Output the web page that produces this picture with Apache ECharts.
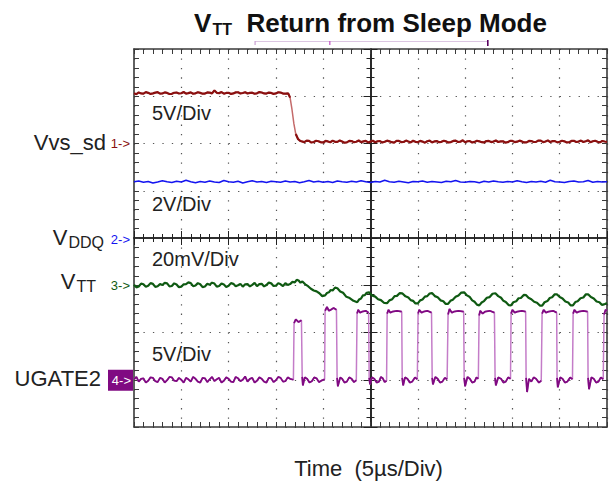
<!DOCTYPE html>
<html><head><meta charset="utf-8">
<script src="https://cdn.jsdelivr.net/npm/echarts@6/dist/echarts.min.js"></script>
<style>html,body{margin:0;padding:0;background:#fff}#c{width:612px;height:484px}</style>
</head><body><div id="c"></div>
<script>
// ---- time axis (µs), 10 div x 5 µs
const timeMin = 0, timeMax = 50, timePerDiv = 5;
// ---- vertical: 8 divisions, centre = 0
const divMin = -4, divMax = 4;
// channel scaling (units per division) and ground marker position (div)
const ch1PerDiv = 5, ch1Ground = 2;      // Vvs_sd, 5V/Div
const ch2PerDiv = 2, ch2Ground = 0;      // VDDQ, 2V/Div
const ch3PerDiv = 20, ch3Ground = -1;    // VTT, 20mV/Div
const ch4PerDiv = 5, ch4Ground = -3;     // UGATE2, 5V/Div

// ---- channel 1: Vvs_sd [µs, V]
const ch1Volts = [
[0,5.31],[0.25,5.22],[0.5,5.40],[0.75,5.30],[1,5.27],[1.25,5.44],[1.5,5.36],[1.75,5.25],[2,5.30],[2.25,5.38],[2.5,5.43],[2.75,5.28],[3,5.29],[3.25,5.41],[3.5,5.35],[3.75,5.24],[4,5.26],[4.25,5.37],[4.5,5.39],[4.75,5.29],
[5,5.32],[5.25,5.45],[5.5,5.28],[5.75,5.33],[6,5.41],[6.25,5.26],[6.5,5.31],[6.75,5.42],[7,5.36],[7.25,5.27],[7.5,5.28],[7.75,5.40],[8,5.38],[8.25,5.30],[8.5,5.62],[8.75,5.36],[9,5.33],[9.25,5.44],[9.5,5.27],[9.75,5.35],
[10,5.37],[10.25,5.25],[10.5,5.30],[10.75,5.41],[11,5.42],[11.25,5.29],[11.5,5.34],[11.75,5.43],[12,5.29],[12.25,5.36],[12.5,5.38],[12.75,5.26],[13,5.31],[13.25,5.44],[13.5,5.40],[13.75,5.30],[14,5.28],[14.25,5.39],[14.5,5.35],[14.75,5.25],
[15,5.30],[15.25,5.42],[15.5,5.39],[15.75,5.28],[16,5.27],[16.3,5.30],[16.5,4.85],[16.7,3.6],[16.9,2.1],[17.1,1.0],[17.35,0.45],[17.6,0.26],
[18,0.14],[18.25,0.30],[18.5,0.27],[18.75,0.10],[19,0.16],[19.25,0.29],[19.5,0.24],[19.75,0.12],[20,0.11],[20.25,0.27],[20.5,0.22],[20.75,0.13],[21,0.30],[21.25,0.18],[21.5,0.17],[21.75,0.31],[22,0.21],[22.25,0.09],[22.5,0.12],[22.75,0.28],
[23,0.26],[23.25,0.14],[23.5,0.19],[23.75,0.32],[24,0.15],[24.25,0.22],[24.5,0.28],[24.75,0.11],[25,0.20],[25.25,0.29],[25.5,0.13],[25.75,0.24],[26,0.25],[26.25,0.10],[26.5,0.18],[26.75,0.30],[27,0.23],[27.25,0.14],[27.5,0.10],[27.75,0.27],
[28,0.27],[28.25,0.15],[28.5,0.16],[28.75,0.31],[29,0.21],[29.25,0.12],[29.5,0.29],[29.75,0.18],[30,0.14],[30.25,0.28],[30.5,0.20],[30.75,0.09],[31,0.24],[31.25,0.30],[31.5,0.12],[31.75,0.22],[32,0.26],[32.25,0.13],[32.5,0.18],[32.75,0.29],
[33,0.22],[33.25,0.11],[33.5,0.15],[33.75,0.27],[34,0.31],[34.25,0.16],[34.5,0.19],[34.75,0.34],[35,0.13],[35.25,0.24],[35.5,0.25],[35.75,0.10],[36,0.17],[36.25,0.29],[36.5,0.23],[36.75,0.14],[37,0.11],[37.25,0.26],[37.5,0.28],[37.75,0.15],
[38,0.20],[38.25,0.32],[38.5,0.16],[38.75,0.22],[39,0.24],[39.25,0.10],[39.5,0.14],[39.75,0.28],[40,0.27],[40.25,0.15],[40.5,0.19],[40.75,0.30],[41,0.22],[41.25,0.11],[41.5,0.12],[41.75,0.27],[42,0.26],[42.25,0.16],[42.5,0.17],[42.75,0.31],
[43,0.30],[43.25,0.14],[43.5,0.21],[43.75,0.33],[44,0.15],[44.25,0.25],[44.5,0.25],[44.75,0.12],[45,0.18],[45.25,0.29],[45.5,0.23],[45.75,0.11],[46,0.13],[46.25,0.27],[46.5,0.28],[46.75,0.16],[47,0.20],[47.25,0.31],[47.5,0.16],[47.75,0.24],
[48,0.33],[48.25,0.14],[48.5,0.24],[48.75,0.29],[49,0.19],[49.25,0.12],[49.5,0.27],[49.75,0.21],[50,0.18]
];
// ---- channel 2: VDDQ [µs, V]
const ch2Volts = [
[0,2.38],[0.5,2.41],[1,2.36],[1.5,2.39],[2,2.33],[2.5,2.37],[3,2.42],[3.5,2.38],[4,2.35],[4.5,2.40],
[5,2.37],[5.5,2.44],[6,2.38],[6.5,2.34],[7,2.39],[7.5,2.36],[8,2.41],[8.5,2.37],[9,2.35],[9.5,2.43],
[10,2.38],[10.5,2.36],[11,2.40],[11.5,2.33],[12,2.38],[12.5,2.42],[13,2.37],[13.5,2.39],[14,2.35],[14.5,2.40],
[15,2.38],[15.5,2.36],[16,2.41],[16.5,2.37],[17,2.39],[17.5,2.34],[18,2.38],[18.5,2.43],[19,2.37],[19.5,2.40],
[20,2.36],[20.5,2.39],[21,2.35],[21.5,2.41],[22,2.38],[22.5,2.36],[23,2.40],[23.5,2.37],[24,2.42],[24.5,2.38],
[25,2.35],[25.5,2.39],[26,2.37],[26.5,2.44],[27,2.38],[27.5,2.36],[28,2.40],[28.5,2.37],[29,2.34],[29.5,2.39],
[30,2.38],[30.5,2.41],[31,2.36],[31.5,2.39],[32,2.37],[32.5,2.35],[33,2.40],[33.5,2.38],[34,2.43],[34.5,2.37],
[35,2.36],[35.5,2.39],[36,2.38],[36.5,2.34],[37,2.40],[37.5,2.37],[38,2.41],[38.5,2.38],[39,2.36],[39.5,2.39],
[40,2.37],[40.5,2.42],[41,2.38],[41.5,2.35],[42,2.39],[42.5,2.37],[43,2.40],[43.5,2.36],[44,2.44],[44.5,2.38],
[45,2.37],[45.5,2.35],[46,2.39],[46.5,2.41],[47,2.37],[47.5,2.38],[48,2.43],[48.5,2.36],[49,2.39],[49.5,2.37],
[50,2.38]
];
// ---- channel 3: VTT [µs, mV] (AC)
const ch3MilliVolts = [
[0,0.2],[0.25,-0.9],[0.5,-0.5],[0.75,0.7],[1,0.4],[1.25,-0.6],[1.5,-0.2],[1.75,0.9],[2,0.6],[2.25,-0.7],[2.5,-0.4],[2.75,0.5],[3,0.1],[3.25,1.0],[3.5,0.8],[3.75,-0.5],[4,-0.3],[4.25,0.8],[4.5,0.3],[4.75,-0.8],
[5,-0.6],[5.25,0.4],[5.5,0.5],[5.75,1.2],[6,0.9],[6.25,-0.4],[6.5,-0.1],[6.75,0.9],[7,0.4],[7.25,-0.8],[7.5,-0.5],[7.75,0.6],[8,0.2],[8.25,1.1],[8.5,0.7],[8.75,-0.6],[9,-0.3],[9.25,0.7],[9.5,0.3],[9.75,-0.7],
[10,-0.2],[10.25,0.9],[10.5,0.6],[10.75,-0.4],[11,0.0],[11.25,0.6],[11.5,-0.6],[11.75,0.4],[12,0.5],[12.25,-0.5],[12.5,0.2],[12.75,1.0],[13,-0.4],[13.25,0.5],[13.5,0.6],[13.75,-0.5],[14,0.1],[14.25,1.1],[14.5,0.8],[14.75,-0.3],
[15,-0.2],[15.25,0.9],[15.5,0.4],[15.75,-0.4],[16,0.9],[16.25,0.1],[16.5,0.5],[16.75,1.4],[17,1.2],[17.2,2.3],[17.4,2.0],[17.6,1.1],[17.8,1.6],[18.1,0.4],[18.4,-0.4],[18.7,-1.5],[19.0,-2.2],[19.3,-2.6],[19.6,-3.4],[19.9,-4.6],
[20.2,-4.3],[20.4,-3.3],[20.6,-3.0],[20.8,-2.0],[21.0,-2.2],[21.25,-1.0],[21.5,-1.3],[21.8,-2.6],[22.1,-3.2],[22.45,-4.9],[22.8,-5.4],[23.2,-6.6],[23.6,-7.2],[23.8,-6.0],[24.0,-5.6],[24.2,-4.3],[24.4,-4.2],[24.6,-3.2],[24.85,-3.0],[25.15,-4.3],
[25.5,-4.8],[25.8,-5.9],[26.1,-6.3],[26.45,-7.5],[26.75,-7.6],[27.0,-6.4],[27.3,-5.9],[27.55,-4.6],[27.8,-4.5],[28.1,-3.3],[28.35,-3.4],[28.7,-4.7],[29.0,-5.2],[29.25,-6.3],[29.5,-6.6],[29.75,-7.7],[30.0,-7.7],[30.25,-6.4],[30.5,-6.0],[30.75,-4.8],
[31.0,-4.6],[31.25,-3.5],[31.5,-3.3],[31.8,-4.6],[32.1,-5.1],[32.4,-6.4],[32.7,-6.8],[32.95,-7.9],[33.2,-7.9],[33.45,-6.6],[33.7,-6.1],[34.0,-4.9],[34.3,-4.3],[34.6,-3.1],[34.9,-3.0],[35.2,-4.3],[35.5,-5.0],[35.75,-6.4],[36.0,-7.0],[36.25,-8.2],
[36.5,-8.5],[36.75,-7.3],[37.0,-6.7],[37.3,-5.3],[37.6,-5.0],[37.9,-3.6],[38.2,-3.4],[38.5,-4.6],[38.8,-5.3],[39.05,-6.6],[39.3,-7.1],[39.6,-8.4],[39.85,-8.5],[40.1,-7.2],[40.4,-6.8],[40.65,-5.5],[40.9,-5.4],[41.2,-4.1],[41.45,-4.2],[41.7,-5.3],
[42.0,-5.9],[42.3,-7.0],[42.6,-7.4],[42.9,-8.6],[43.15,-8.6],[43.4,-7.2],[43.7,-6.7],[43.95,-5.4],[44.2,-5.1],[44.45,-3.9],[44.7,-3.8],[45.0,-5.0],[45.3,-5.6],[45.6,-6.9],[45.9,-7.3],[46.15,-8.5],[46.4,-8.5],[46.65,-7.1],[46.9,-6.8],[47.2,-5.5],
[47.5,-5.2],[47.75,-3.9],[48.0,-3.8],[48.3,-5.0],[48.6,-5.6],[48.9,-6.9],[49.2,-7.2],[49.45,-8.3],[49.7,-8.1],[50,-7.5]
];
// ---- channel 4: UGATE2 [µs, V]
const ch4Volts = [
[0,0.05],[0.25,0.3],[0.5,-0.2],[0.75,0.1],[1,0.15],[1.25,-0.3],[1.5,-0.1],[1.75,0.25],[2,0.2],[2.25,-0.15],[2.5,-0.25],[2.75,0.2],[3,0.1],[3.25,-0.3],[3.5,-0.05],[3.75,0.3],[4,0.25],[4.25,-0.1],[4.5,-0.15],[4.75,0.2],
[5,0.0],[5.25,-0.3],[5.5,0.2],[5.75,0.05],[6,-0.2],[6.25,0.3],[6.5,0.1],[6.75,-0.2],[7,-0.3],[7.25,0.2],[7.5,0.15],[7.75,-0.25],[8,0.05],[8.25,0.3],[8.5,-0.15],[8.75,0.05],[9,0.2],[9.25,-0.3],[9.5,-0.1],[9.75,0.25],
[10,0.1],[10.25,-0.2],[10.5,-0.25],[10.75,0.3],[11,0.15],[11.25,-0.15],[11.5,0.0],[11.75,0.35],[12,-0.2],[12.25,0.1],[12.5,0.2],[12.75,-0.3],[13,-0.1],[13.25,0.25],[13.5,0.1],[13.75,-0.2],[14,-0.3],[14.25,0.2],[14.5,0.15],[14.75,-0.25],
[15,-0.05],[15.25,0.3],[15.5,0.2],[15.75,-0.2],[16,-0.15],[16.25,0.25],[16.5,0.1],[16.85,0.0],
[16.92,6.0],[17.1,6.4],[17.4,6.1],[17.7,6.3],[17.78,0.3],[17.85,-0.6],[18.05,0.25],[18.3,0.1],[18.55,-0.3],[18.8,-0.15],[19.05,0.25],[19.3,0.15],[19.55,-0.25],[19.8,-0.1],[20.15,0.05],
[20.2,7.3],[20.4,7.7],[20.6,7.3],[20.8,7.4],[21.1,7.6],[21.4,7.4],[21.47,0.2],[21.55,-0.7],[21.8,0.25],[22.0,0.1],[22.25,-0.3],[22.5,-0.2],[22.75,0.25],[23.0,0.1],[23.25,-0.25],[23.5,-0.05],
[23.58,7.0],[23.7,7.4],[23.9,7.1],[24.1,7.2],[24.5,7.3],[24.8,7.1],[24.86,0.2],[24.95,-0.5],[25.15,0.25],[25.4,0.1],[25.65,-0.3],[25.9,-0.2],[26.1,0.3],[26.3,0.15],[26.5,-0.25],[26.7,-0.1],
[26.76,7.0],[26.9,7.4],[27.1,7.1],[27.3,7.2],[27.8,7.3],[28.3,7.2],[28.35,0.2],[28.45,-0.6],[28.65,0.25],[28.9,0.1],[29.15,-0.3],[29.4,-0.2],[29.7,0.25],[29.95,0.05],
[30.03,7.0],[30.15,7.4],[30.4,7.1],[30.6,7.2],[31.0,7.3],[31.45,7.1],[31.52,0.2],[31.6,-0.5],[31.85,0.3],[32.1,0.1],[32.35,-0.3],[32.6,-0.2],[32.85,0.2],[33.1,0.05],
[33.2,6.9],[33.35,7.5],[33.6,7.1],[33.8,7.2],[34.3,7.3],[34.85,7.2],[34.9,0.2],[35.0,-0.7],[35.25,0.3],[35.5,0.1],[35.75,-0.3],[36.0,-0.2],[36.2,0.25],[36.4,0.1],
[36.48,6.8],[36.6,7.3],[36.85,7.0],[37.1,7.2],[37.6,7.3],[38.1,7.1],[38.17,0.2],[38.25,-0.6],[38.5,0.25],[38.8,0.1],[39.05,-0.3],[39.3,-0.2],[39.55,0.25],[39.8,0.1],
[39.86,7.0],[40.0,7.4],[40.25,7.1],[40.5,7.2],[41.0,7.3],[41.4,7.2],[41.45,0.2],[41.55,-1.3],[41.75,0.1],[42.0,-0.2],[42.25,0.25],[42.5,0.1],[42.8,-0.3],[43.05,-0.1],
[43.14,7.0],[43.3,7.4],[43.55,7.1],[43.8,7.2],[44.3,7.3],[44.68,7.1],[44.72,0.2],[44.8,-0.8],[45.05,0.25],[45.3,0.1],[45.55,-0.3],[45.8,-0.2],[46.1,0.25],[46.35,0.05],
[46.42,7.0],[46.55,7.4],[46.8,7.1],[47.0,7.2],[47.5,7.3],[47.95,7.2],[48.0,0.2],[48.1,-1.0],[48.35,0.25],[48.6,0.1],[48.85,-0.3],[49.1,-0.2],[49.35,0.25],[49.6,0.05],
[49.69,6.9],[49.85,7.4],[50,7.3]
];
// record bracket above the screen (µs): start, trigger, end
const recordBracket = [12.8, 20.7, 37.4];

// text
const titleMain = 'Return from Sleep Mode';
const axisTitle = 'Time  (5\u00B5s/Div)';
const chLabels = ['Vvs_sd', 'VDDQ', 'VTT', 'UGATE2'];
const divLabels = ['5V/Div', '2V/Div', '20mV/Div', '5V/Div'];

const FONT = '"Liberation Sans", Arial, Helvetica, sans-serif';
const C1 = '#8a1010', C1L = '#c46a6a', C2 = '#1414f0', C3 = '#0f5a12', C4 = '#800a82', C4L = '#c47cc8';
const GRID = '#3a3a3a';

function toDiv(arr, perDiv, ground) { return arr.map(p => [p[0], p[1] / perDiv + ground]); }
function breakEdges(data, thr) {
  const out = [];
  for (let i = 0; i < data.length; i++) {
    if (i > 0 && Math.abs(data[i][1] - data[i-1][1]) > thr) out.push([(data[i][0] + data[i-1][0]) / 2, '-']);
    out.push(data[i]);
  }
  return out;
}
const d1 = toDiv(ch1Volts, ch1PerDiv, ch1Ground);
const d2 = toDiv(ch2Volts, ch2PerDiv, ch2Ground);
const d3 = toDiv(ch3MilliVolts, ch3PerDiv, ch3Ground);
const d4 = toDiv(ch4Volts, ch4PerDiv, ch4Ground);

const chart = echarts.init(document.getElementById('c'), null, {renderer: 'svg'});

function borderAxis(pos, isX, split) {
  return {
    type: 'value', position: pos,
    min: isX ? timeMin : divMin, max: isX ? timeMax : divMax, interval: isX ? timePerDiv : 1,
    axisLine: {show: true, onZero: false, lineStyle: {color: GRID, width: 1.6}},
    axisTick: {show: true, inside: true, length: 5, lineStyle: {color: GRID, width: 1}},
    minorTick: {show: true, splitNumber: 5, length: 5, lineStyle: {color: GRID, width: 1}},
    axisLabel: {show: false},
    splitLine: {show: split, lineStyle: {color: '#555', width: 1.2, type: isX ? [1.3, 8.15] : [1.3, 8.16]}},
    minorSplitLine: {show: false}
  };
}
function centerAxis(pos, isX, inside, zeroIdx) {
  return {
    type: 'value', position: pos,
    min: isX ? timeMin : divMin, max: isX ? timeMax : divMax, interval: isX ? timePerDiv : 1,
    axisLine: {show: true, onZero: true, onZeroAxisIndex: zeroIdx, lineStyle: {color: '#222', width: 1.6}},
    axisTick: {show: true, inside: inside, length: 7, lineStyle: {color: '#222', width: 1}},
    minorTick: {show: true, splitNumber: 5, length: 4, lineStyle: {color: '#222', width: 1}},
    axisLabel: {show: false}, splitLine: {show: false}
  };
}

const lineBase = {type: 'line', showSymbol: false, symbol: 'none', animation: false, xAxisIndex: 0, yAxisIndex: 0, silent: true};

chart.setOption({
  animation: false,
  grid: {left: 134, top: 49, width: 473, height: 378, containLabel: false, outerBoundsMode: 'none'},
  xAxis: [
    borderAxis('bottom', true, true),
    borderAxis('top', true, false),
    centerAxis('bottom', true, true, 0),
    centerAxis('bottom', true, false, 0),
    {type: 'value', min: -(timeMax - timeMin) / 2, max: (timeMax - timeMin) / 2, show: false, position: 'bottom', axisLine: {onZero: false}}
  ],
  yAxis: [
    borderAxis('left', false, true),
    borderAxis('right', false, false),
    centerAxis('left', false, true, 4),
    centerAxis('left', false, false, 4)
  ],
  series: [
    Object.assign({}, lineBase, {name: 'VDDQ', data: d2, lineStyle: {color: C2, width: 1.6}}),
    Object.assign({}, lineBase, {name: 'VTT', data: d3, lineStyle: {color: C3, width: 2.2}}),
    Object.assign({}, lineBase, {name: 'UGATE2 edge', data: d4, lineStyle: {color: C4L, width: 1.5}}),
    Object.assign({}, lineBase, {name: 'UGATE2', data: breakEdges(d4, 0.8), connectNulls: false, lineStyle: {color: C4, width: 1.8}}),
    Object.assign({}, lineBase, {name: 'Vvs_sd edge', data: d1, lineStyle: {color: C1L, width: 1.5}}),
    Object.assign({}, lineBase, {name: 'Vvs_sd', data: breakEdges(d1, 0.2), connectNulls: false, lineStyle: {color: C1, width: 2.2}})
  ]
});

// ---- annotations (text) positioned from axes
const py = v => chart.convertToPixel({yAxisIndex: 0}, v);
const px = t => chart.convertToPixel({xAxisIndex: 0}, t);
const g1 = py(ch1Ground), g2 = py(ch2Ground), g3 = py(ch3Ground), g4 = py(ch4Ground);
const xMid = px((timeMin + timeMax) / 2);
const txt = (x, y, text, size, color, align, extra) => ({
  type: 'text', x: x, y: y, silent: true,
  style: Object.assign({text: text, font: size + 'px ' + FONT, fill: color, align: align, verticalAlign: 'middle', textAlign: align, textVerticalAlign: 'middle'}, extra || {})
});
const subRich = (size, subSize) => ({
  rich: {
    m: {fontSize: size, fontFamily: FONT, fill: '#222', color: '#222'},
    s: {fontSize: subSize, fontFamily: FONT, fill: '#222', color: '#222', padding: [10, 0, 0, 1]}
  }
});
const graphics = [
  // title
  {type: 'text', x: xMid, y: 23, silent: true, style: {
    text: '{m|V}{s|TT}{m|  ' + titleMain + '}', align: 'center', verticalAlign: 'middle', textAlign: 'center', textVerticalAlign: 'middle',
    rich: {
      m: {fontSize: 26, fontWeight: 'bold', fontFamily: FONT, fill: '#111', color: '#111'},
      s: {fontSize: 16, fontWeight: 'bold', fontFamily: FONT, fill: '#111', color: '#111', padding: [12, 0, 0, 1]}
    }}},
  // x axis title
  txt(xMid - 2, 468, axisTitle, 22, '#222', 'center', {whiteSpace: 'pre'}),
  // channel labels
  txt(106, g1 - 1, chLabels[0], 22, '#222', 'right'),
  {type: 'text', x: 104, y: g2 - 1, silent: true, style: Object.assign({text: '{m|V}{s|DDQ}', align: 'right', verticalAlign: 'middle', textAlign: 'right', textVerticalAlign: 'middle'}, subRich(22, 16))},
  {type: 'text', x: 96, y: g3 - 4, silent: true, style: Object.assign({text: '{m|V}{s|TT}', align: 'right', verticalAlign: 'middle', textAlign: 'right', textVerticalAlign: 'middle'}, subRich(22, 16))},
  txt(101, g4 - 1, chLabels[3], 22, '#222', 'right'),
  // ground markers
  txt(130, g1, '1->', 13, C1, 'right'),
  txt(130, g2 + 1, '2->', 13, C2, 'right'),
  txt(130, g3, '3->', 13, C3, 'right'),
  {type: 'rect', shape: {x: 108, y: g4 - 10, width: 25, height: 21}, style: {fill: C4}, silent: true},
  txt(131, g4 + 1, '4->', 13, '#fff', 'right'),
  // volts/div labels
  txt(152, py(ch1Ground + 0.64), divLabels[0], 20, '#222', 'left'),
  txt(152, py(ch2Ground + 0.73), divLabels[1], 20, '#222', 'left'),
  txt(152, py(ch3Ground + 0.55), divLabels[2], 20, '#222', 'left'),
  txt(152, py(ch4Ground + 0.54), divLabels[3], 20, '#222', 'left'),
  // record bracket
  {type: 'line', silent: true, shape: {x1: px(recordBracket[0]), y1: 41.5, x2: px(recordBracket[2]), y2: 41.5}, style: {stroke: '#dcc6e2', lineWidth: 1}},
  {type: 'line', silent: true, shape: {x1: px(recordBracket[0]), y1: 41, x2: px(recordBracket[0]), y2: 45}, style: {stroke: '#c9a0d2', lineWidth: 1.2}},
  {type: 'line', silent: true, shape: {x1: px(recordBracket[1]), y1: 41, x2: px(recordBracket[1]), y2: 45}, style: {stroke: '#c050c4', lineWidth: 1.2}},
  {type: 'line', silent: true, shape: {x1: px(recordBracket[2]), y1: 40, x2: px(recordBracket[2]), y2: 46}, style: {stroke: '#5a0060', lineWidth: 1.6}}
];
chart.setOption({graphic: graphics});
</script>
</body></html>
